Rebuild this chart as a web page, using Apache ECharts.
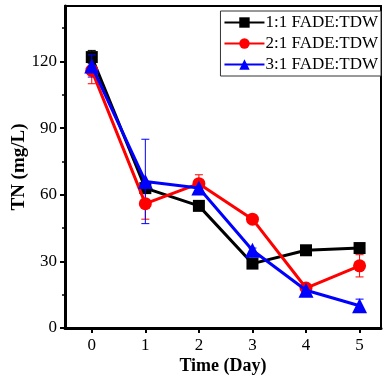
<!DOCTYPE html>
<html>
<head>
<meta charset="utf-8">
<script src="https://cdn.jsdelivr.net/npm/echarts@6/dist/echarts.min.js"></script>
<style>
  html, body { margin: 0; padding: 0; background: #fff; }
  #chart { width: 383px; height: 377px; }
</style>
</head>
<body>
<div id="chart"></div>
<script>
// data
const days = [0, 1, 2, 3, 4, 5];
const names = ['1:1 FADE:TDW', '2:1 FADE:TDW', '3:1 FADE:TDW'];
const tn11 = [122, 63, 55, 29, 35, 36];
const tn21 = [116, 56, 65, 49, 18, 28];
const tn31 = [118, 66, 63, 35, 17, 10];
const err11 = [3, 1, 1, 1, 1, 2];
const err21 = [6, 7, 4, 1, 1, 5];
const err31 = [5, 19, 2, 1, 2, 3];
const yTicks = [0, 30, 60, 90, 120];

const colors = ['#000000', '#ff0000', '#0000ff'];
const symbols = ['rect', 'circle', 'triangle'];
const symSizes = [12, 13, 15];
const values = [tn11, tn21, tn31];
const errors = [err11, err21, err31];

const chart = echarts.init(document.getElementById('chart'));

const serif = '"Liberation Serif", "DejaVu Serif", serif';

const lineSeries = values.map((v, i) => ({
  name: names[i],
  type: 'line',
  data: days.map((d, k) => [d, v[k]]),
  symbol: symbols[i],
  symbolSize: symSizes[i],
  lineStyle: { color: colors[i], width: 3 },
  itemStyle: { color: colors[i] },
  z: 3 + i
}));

// error bars
const errSeries = values.map((v, i) => ({
  type: 'custom',
  data: days.map((d, k) => [d, v[k] - errors[i][k], v[k] + errors[i][k]]),
  renderItem: (params, api) => {
    const lo = api.coord([api.value(0), api.value(1)]);
    const hi = api.coord([api.value(0), api.value(2)]);
    const w = 4;
    const st = { stroke: colors[i], lineWidth: 1 };
    return {
      type: 'group',
      children: [
        { type: 'line', shape: { x1: lo[0], y1: lo[1], x2: hi[0], y2: hi[1] }, style: st },
        { type: 'line', shape: { x1: lo[0] - w, y1: lo[1], x2: lo[0] + w, y2: lo[1] }, style: st },
        { type: 'line', shape: { x1: hi[0] - w, y1: hi[1], x2: hi[0] + w, y2: hi[1] }, style: st }
      ]
    };
  },
  z: 2 + i
}));

chart.setOption({
  animation: false,
  grid: {
    left: 65, right: 2, top: 6, bottom: 49,
    containLabel: false,
    outerBoundsMode: 'none',
    show: true, borderColor: '#000', borderWidth: 2
  },
  legend: {
    data: names,
    orient: 'vertical',
    right: 2, top: 11,
    itemWidth: 40, itemHeight: 13,
    itemGap: 4,
    padding: [3, 3, 3, 3],
    borderColor: '#333', borderWidth: 1,
    backgroundColor: '#fff',
    textStyle: { fontFamily: serif, fontSize: 17, color: '#000', padding: [0, 0, 0, -4] }
  },
  xAxis: {
    type: 'value',
    min: -0.5, max: 5.4,
    interval: 1,
    name: 'Time (Day)',
    nameLocation: 'middle',
    nameGap: 29,
    nameMoveOverlap: false,
    nameTextStyle: { fontFamily: serif, fontSize: 18, fontWeight: 'bold', color: '#000' },
    axisLine: { onZero: false, lineStyle: { color: '#000', width: 3 } },
    axisTick: { show: true, length: 5, lineStyle: { width: 2 }, customValues: days },
    axisLabel: { fontFamily: serif, fontSize: 17, color: '#000', customValues: days, margin: 9 },
    splitLine: { show: false }
  },
  yAxis: {
    type: 'value',
    min: 0, max: 145,
    interval: 30,
    name: 'TN (mg/L)',
    nameLocation: 'middle',
    nameGap: 36,
    nameMoveOverlap: false,
    nameTextStyle: { fontFamily: serif, fontSize: 19, fontWeight: 'bold', color: '#000' },
    axisLine: { onZero: false, lineStyle: { color: '#000', width: 3 } },
    axisTick: { show: true, length: 5, lineStyle: { width: 2 }, customValues: yTicks },
    minorTick: { show: true, splitNumber: 2, length: 3, lineStyle: { color: '#000', width: 1.5 } },
    axisLabel: { fontFamily: serif, fontSize: 17, color: '#000', customValues: yTicks, margin: 8 },
    splitLine: { show: false }
  },
  series: [...errSeries, ...lineSeries]
});
</script>
</body>
</html>
